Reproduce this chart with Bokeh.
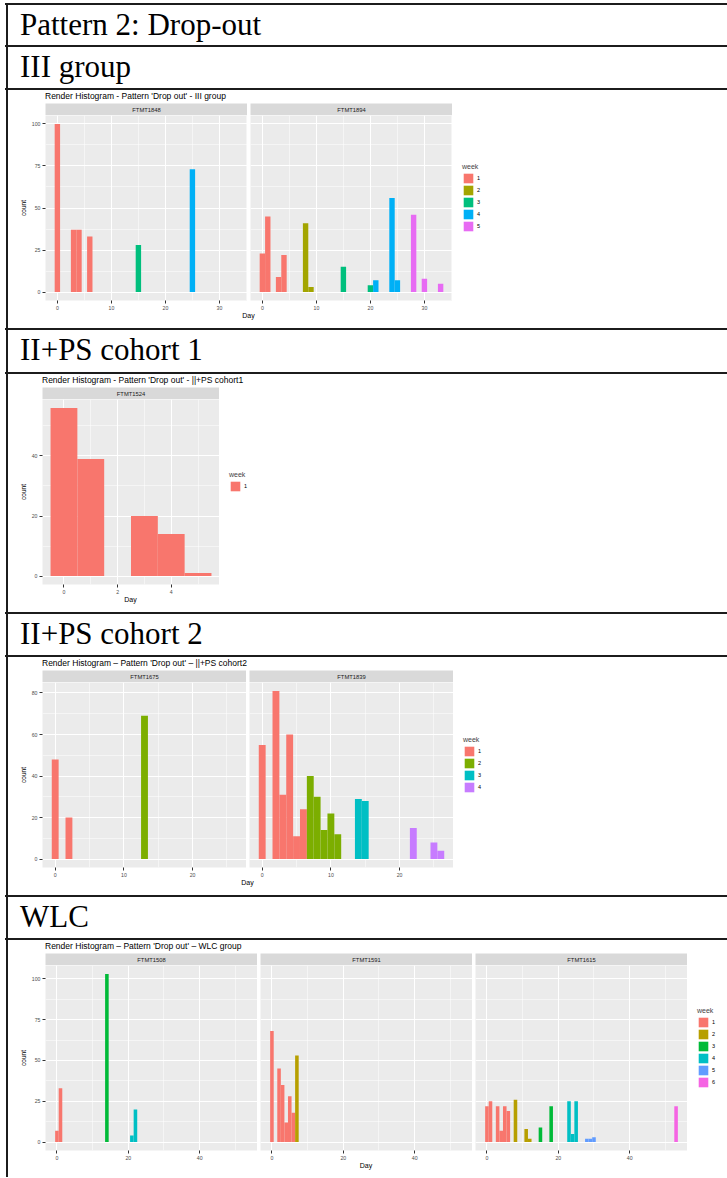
from bokeh.plotting import figure
from bokeh.models import (Range1d, SingleIntervalTicker, Legend, LegendItem, Div,
                          Label, Spacer, ColumnDataSource)
from bokeh.layouts import column, row
from bokeh.embed import file_html
from bokeh.resources import INLINE

# ---------------- data ----------------
HEADERS = ["Pattern 2: Drop-out", "III group", "II+PS cohort 1", "II+PS cohort 2", "WLC"]

TITLE_1 = "Render Histogram - Pattern 'Drop out' - III group"
NAMES_1 = ["FTMT1848", "FTMT1894"]
DAYS_1848 = [0, 3, 4, 6, 15, 25]
COUNT_1848 = [100, 37, 37, 33, 28, 73]
WEEK_1848 = [1, 1, 1, 1, 3, 4]
DAYS_1894 = [0, 1, 3, 4, 8, 9, 15, 20, 21, 24, 25, 28, 30, 33]
COUNT_1894 = [23, 45, 9, 22, 41, 3, 15, 4, 7, 56, 7, 46, 8, 5]
WEEK_1894 = [1, 1, 1, 1, 2, 2, 3, 3, 4, 4, 4, 5, 5, 5]

TITLE_2 = "Render Histogram - Pattern 'Drop out' - ||+PS cohort1"
NAMES_2 = ["FTMT1524"]
DAYS_1524 = [0, 1, 3, 4, 5]
COUNT_1524 = [56, 39, 20, 14, 1]
WEEK_1524 = [1, 1, 1, 1, 1]

TITLE_3 = "Render Histogram \u2013 Pattern 'Drop out' \u2013 ||+PS cohort2"
NAMES_3 = ["FTMT1675", "FTMT1839"]
DAYS_1675 = [0, 2, 13]
COUNT_1675 = [48, 20, 69]
WEEK_1675 = [1, 1, 2]
DAYS_1839 = [0, 2, 3, 4, 5, 6, 7, 8, 9, 10, 11, 14, 15, 22, 25, 26]
COUNT_1839 = [55, 81, 31, 60, 11, 24, 40, 30, 14, 22, 12, 29, 28, 15, 8, 4]
WEEK_1839 = [1, 1, 1, 1, 1, 1, 2, 2, 2, 2, 2, 3, 3, 4, 4, 4]

TITLE_4 = "Render Histogram \u2013 Pattern 'Drop out' \u2013 WLC group"
NAMES_4 = ["FTMT1508", "FTMT1591", "FTMT1615"]
DAYS_1508 = [0, 1, 14, 21, 22]
COUNT_1508 = [7, 33, 103, 4, 20]
WEEK_1508 = [1, 1, 3, 4, 4]
DAYS_1591 = [0, 2, 3, 4, 5, 6, 7]
COUNT_1591 = [68, 45, 35, 12, 28, 18, 53]
WEEK_1591 = [1, 1, 1, 1, 1, 1, 2]
DAYS_1615 = [0, 1, 3, 4, 5, 6, 8, 11, 12, 15, 18, 23, 24, 25, 28, 29, 30, 53]
COUNT_1615 = [22, 25, 22, 7, 22, 19, 26, 8, 2, 9, 22, 25, 5, 25, 2, 2, 3, 22]
WEEK_1615 = [1, 1, 1, 1, 1, 1, 2, 2, 2, 3, 3, 4, 4, 4, 5, 5, 5, 6]

# ---------------- style ----------------
PAL4 = ["#F8766D", "#7CAE00", "#00BFC4", "#C77CFF"]
PAL5 = ["#F8766D", "#A3A500", "#00BF7D", "#00B0F6", "#E76BF3"]
PAL6 = ["#F8766D", "#B79F00", "#00BA38", "#00BFC4", "#619CFF", "#F564E3"]
PAL1 = ["#F8766D"]

FONT = "Liberation Sans"
SERIF = "Liberation Serif"
LINE = "#1c1c1c"
WIN_W = 727
X0 = 6            # left table border position
INNER_W = WIN_W - X0 - 2
TITLE_H = 13
STRIP_H = 12
FRAME_H = 188
XAX_H = 9


def sp(w=0, h=0):
    return Spacer(width=w, height=h, margin=0)


def hline():
    return row(sp(5, 2), Div(text="", width=WIN_W - 5, height=2, margin=0,
                             styles={"background-color": LINE}))


def vbar(h):
    return Div(text="", width=2, height=h, margin=0, styles={"background-color": LINE})


def header(text, h):
    d = Div(text=text, width=INNER_W, height=h, margin=0,
            styles={"font-family": SERIF, "font-size": "31px", "line-height": "40px",
                    "text-indent": "12px", "color": "#000", "white-space": "nowrap",
                    "overflow": "hidden"})
    return row(sp(X0, h), vbar(h), d)


def ext(lo, hi, f=0.05):
    d = (hi - lo) * f
    return lo - d, hi + d


def bare(w, h):
    f = figure(width=w, height=h, x_range=Range1d(0, 1), y_range=Range1d(0, 1),
               x_axis_location=None, y_axis_location=None, title=None,
               min_border_left=0, min_border_right=0, min_border_top=0, min_border_bottom=0,
               toolbar_location=None, output_backend="svg")
    f.outline_line_color = None
    f.xgrid.visible = False
    f.ygrid.visible = False
    return f


def section(img_h, title, names, days, counts, weeks, palette, xtick, ytick,
            left, frame_w, gap, right):
    all_days = [d for ds in days for d in ds]
    all_counts = [c for cs in counts for c in cs]
    xr = ext(min(all_days) - 0.5, max(all_days) + 0.5)
    yr = ext(0, max(all_counts))
    n = len(names)
    nweeks = len(palette)
    strips, panels = [], []
    for i in range(n):
        bl = left if i == 0 else gap
        w = bl + frame_w
        s = bare(w, STRIP_H)
        s.min_border_left = bl
        s.background_fill_color = "#D9D9D9"
        s.add_layout(Label(x=0.5, y=0.5, text=names[i], text_align="center",
                           text_baseline="middle", text_font=FONT,
                           text_font_size="5.8px", text_color="#1A1A1A"))
        strips.append(s)

        p = figure(width=w, height=FRAME_H + XAX_H, x_range=Range1d(*xr), y_range=Range1d(*yr),
                   title=None, min_border_left=bl, min_border_right=0, min_border_top=0,
                   min_border_bottom=XAX_H, toolbar_location=None, output_backend="svg")
        p.background_fill_color = "#EBEBEB"
        p.outline_line_color = None
        p.xaxis.ticker = SingleIntervalTicker(interval=xtick, num_minor_ticks=2)
        p.yaxis.ticker = SingleIntervalTicker(interval=ytick, num_minor_ticks=2)
        for ax in list(p.xaxis) + list(p.yaxis):
            ax.axis_line_color = None
            ax.major_tick_line_color = "#333333"
            ax.major_tick_out = 3
            ax.major_tick_in = 0
            ax.minor_tick_line_color = None
            ax.major_label_text_font = FONT
            ax.major_label_text_font_size = "5.2px"
            ax.major_label_text_color = "#4D4D4D"
            ax.major_label_standoff = 1
        if i == 0:
            p.yaxis.axis_label = "count"
            p.yaxis.axis_label_text_font = FONT
            p.yaxis.axis_label_text_font_size = "6.5px"
            p.yaxis.axis_label_text_font_style = "normal"
            p.yaxis.axis_label_text_color = "#000000"
            p.yaxis.axis_label_standoff = 2
        else:
            p.yaxis.visible = False
        for g in list(p.xgrid) + list(p.ygrid):
            g.grid_line_color = "white"
            g.grid_line_width = 1
            g.minor_grid_line_color = "white"
            g.minor_grid_line_width = 0.5
        for wk in range(1, nweeks + 1):
            idx = [k for k, v in enumerate(weeks[i]) if v == wk]
            src = ColumnDataSource(dict(x=[days[i][k] for k in idx],
                                        top=[counts[i][k] for k in idx]))
            p.vbar(x="x", top="top", bottom=0, width=1, source=src,
                   fill_color=palette[wk - 1], line_color=None)
        panels.append(p)

    # legend column (keys for each week)
    lf = bare(right, FRAME_H + XAX_H)
    rends = [lf.vbar(x=[float("nan")], top=[float("nan")], width=1,
                     fill_color=c, line_color=None) for c in palette]
    leg_h = 10 + 12 * nweeks
    vy = XAX_H + (FRAME_H - leg_h) / 2
    leg = Legend(items=[LegendItem(label=str(k + 1), renderers=[rends[k]])
                        for k in range(nweeks)],
                 title="week", location=(10, vy), margin=0, padding=0,
                 spacing=0, glyph_width=12, glyph_height=12, label_height=12,
                 label_width=4, label_standoff=3,
                 title_text_font=FONT, title_text_font_size="7px",
                 title_text_font_style="normal", title_standoff=2,
                 label_text_font=FONT, label_text_font_size="5.5px",
                 label_text_color="#000000",
                 background_fill_alpha=0, border_line_color=None)
    lf.add_layout(leg)
    panels.append(lf)

    row_w = left + frame_w * n + gap * (n - 1) + right
    tdiv = Div(text=title, width=row_w, height=TITLE_H, margin=0,
               styles={"font-family": FONT, "font-size": "8.5px",
                       "line-height": f"{TITLE_H}px", "text-indent": f"{left}px",
                       "white-space": "nowrap", "color": "#000"})
    span = frame_w * n + gap * (n - 1)
    day_h = img_h - TITLE_H - STRIP_H - FRAME_H - XAX_H
    dday = Div(text="Day", width=span, height=day_h, margin=0,
               styles={"font-family": FONT, "font-size": "7px", "line-height": "7px",
                       "text-align": "center", "color": "#000"})
    body = column(tdiv, row(*strips), row(*panels), row(sp(left, day_h), dday))
    return row(sp(X0, img_h), vbar(img_h), body)


CL = X0 + 2   # content left edge
sec1 = section(238, TITLE_1, NAMES_1, [DAYS_1848, DAYS_1894], [COUNT_1848, COUNT_1894],
               [WEEK_1848, WEEK_1894], PAL5, 10, 25, 45 - CL, 202, 3, 50)
sec2 = section(238, TITLE_2, NAMES_2, [DAYS_1524], [COUNT_1524], [WEEK_1524], PAL1,
               2, 20, 42 - CL, 177, 3, 45)
sec3 = section(238, TITLE_3, NAMES_3, [DAYS_1675, DAYS_1839], [COUNT_1675, COUNT_1839],
               [WEEK_1675, WEEK_1839], PAL4, 10, 20, 42 - CL, 204, 3, 45)
sec4 = section(237, TITLE_4, NAMES_4, [DAYS_1508, DAYS_1591, DAYS_1615],
               [COUNT_1508, COUNT_1591, COUNT_1615], [WEEK_1508, WEEK_1591, WEEK_1615],
               PAL6, 20, 25, 45 - CL, 212, 3, 32)

page = column(
    sp(10, 3),
    hline(), header(HEADERS[0], 40), hline(), header(HEADERS[1], 41), hline(), sec1,
    hline(), header(HEADERS[2], 42), hline(), sec2,
    hline(), header(HEADERS[3], 41), hline(), sec3,
    hline(), header(HEADERS[4], 41), hline(), sec4,
)

open("out.html", "w").write(file_html(page, INLINE))
